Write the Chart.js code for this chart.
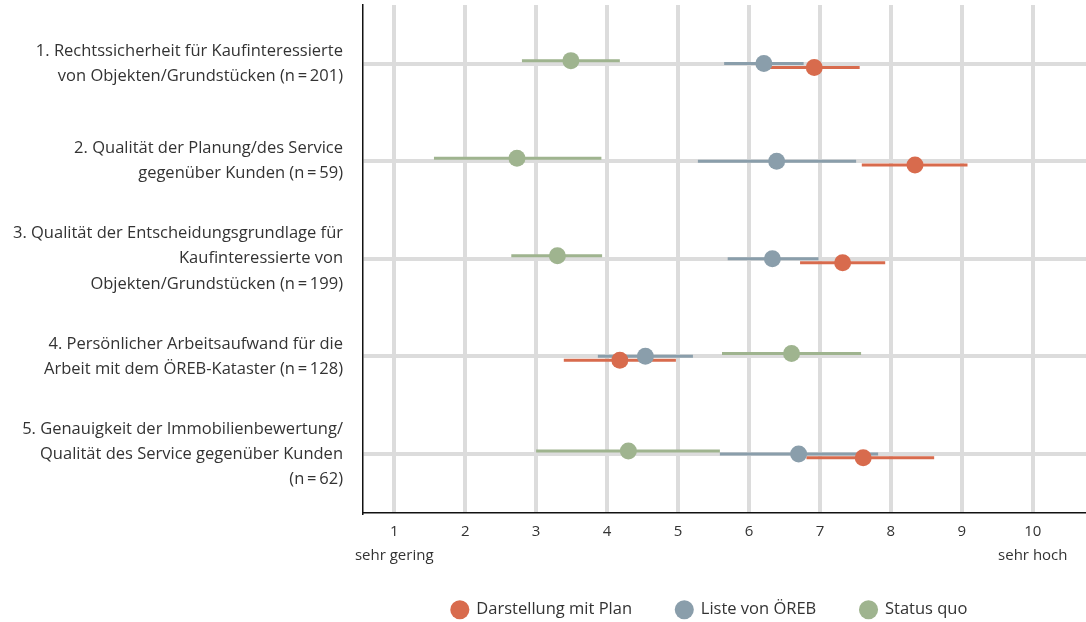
<!DOCTYPE html>
<html>
<head>
<meta charset="utf-8">
<script src="https://cdn.jsdelivr.net/npm/chart.js@4"></script>
<style>
  html, body { margin: 0; padding: 0; background: #fff; }
  #wrap { width: 1086px; height: 622px; }
</style>
</head>
<body>
<div id="wrap"><canvas id="myChart"></canvas></div>
<script>
// row labels (one array of lines per row)
const rowLabels = [
    ['1. Rechtssicherheit für Kaufinteressierte', 'von Objekten/Grundstücken (n\u2009=\u2009201)'],
    ['2. Qualität der Planung/des Service', 'gegenüber Kunden (n\u2009=\u200959)'],
    ['3. Qualität der Entscheidungsgrundlage für', 'Kaufinteressierte von', 'Objekten/Grundstücken (n\u2009=\u2009199)'],
    ['4. Persönlicher Arbeitsaufwand für die', 'Arbeit mit dem ÖREB-Kataster (n\u2009=\u2009128)'],
    ['5. Genauigkeit der Immobilienbewertung/', 'Qualität des Service gegenüber Kunden', '(n\u2009=\u200962)']
];
const xTicks = [1, 2, 3, 4, 5, 6, 7, 8, 9, 10];
const xTickExtra = { 1: 'sehr gering', 10: 'sehr hoch' };

// Darstellung mit Plan
const planMean = [6.92, 8.34, 7.32, 4.18, 7.61];
const planLo   = [6.28, 7.59, 6.72, 3.39, 6.81];
const planHi   = [7.56, 9.08, 7.92, 4.97, 8.61];
// Liste von ÖREB
const listeMean = [6.21, 6.39, 6.33, 4.54, 6.70];
const listeLo   = [5.65, 5.28, 5.70, 3.87, 5.59];
const listeHi   = [6.77, 7.51, 6.98, 5.21, 7.82];
// Status quo
const statusMean = [3.49, 2.73, 3.30, 6.60, 4.30];
const statusLo   = [2.80, 1.56, 2.65, 5.62, 3.00];
const statusHi   = [4.18, 3.92, 3.93, 7.58, 5.59];

const series = [
    { label: 'Darstellung mit Plan', color: '#d86b4d', shift: 0.04, mean: planMean, lo: planLo, hi: planHi },
    { label: 'Liste von ÖREB', color: '#8a9eab', shift: 0, mean: listeMean, lo: listeLo, hi: listeHi },
    { label: 'Status quo', color: '#9fb48f', shift: -0.03, mean: statusMean, lo: statusLo, hi: statusHi }
];

const datasets = [];
for (let s of series) {
    datasets.push({
        label: s.label,
        dot: true,
        data: s.mean.map((v, i) => ({ x: v, y: i + 1 + s.shift })),
        backgroundColor: s.color,
        borderWidth: 0,
        pointRadius: 8.5,
        pointHoverRadius: 8.5,
        order: 0
    });
}
for (let s of series) {
    const pts = [];
    s.lo.forEach((lo, i) => {
        pts.push({ x: lo, y: i + 1 + s.shift });
        pts.push({ x: s.hi[i], y: i + 1 + s.shift });
        pts.push({ x: s.hi[i], y: null });
    });
    datasets.push({
        type: 'line',
        label: s.label + ' Bereich',
        data: pts,
        borderColor: s.color,
        borderWidth: 3,
        borderCapStyle: 'butt',
        pointRadius: 0,
        showLine: true,
        spanGaps: false,
        order: 1
    });
}

const textColor = '#333';
const gridColor = '#dcdcdc';

// centre the legend under the plot area instead of the whole canvas
const legendUnderPlot = {
    id: 'legendUnderPlot',
    afterLayout(chart) {
        const lg = chart.legend;
        const shift = (chart.chartArea.left + chart.chartArea.right) / 2 - 15 - (lg.left + lg.right) / 2;
        lg.left += shift;
        lg.right += shift;
        lg.top -= 7;
        lg.bottom -= 7;
        lg.legendHitBoxes.forEach(b => { b.left += shift; b.top -= 7; });
    }
};

new Chart(document.getElementById('myChart'), {
    type: 'scatter',
    data: { datasets: datasets },
    plugins: [legendUnderPlot],
    options: {
        responsive: true,
        maintainAspectRatio: false,
        animation: false,
        layout: { autoPadding: false, padding: { top: 5, left: 0, right: 0, bottom: -13 } },
        plugins: {
            tooltip: { enabled: false },
            legend: {
                position: 'bottom',
                labels: {
                    filter: item => datasets[item.datasetIndex].dot,
                    usePointStyle: true,
                    pointStyle: 'circle',
                    boxWidth: 16.5,
                    boxHeight: 13.5,
                    padding: 44,
                    color: textColor,
                    font: { family: 'Open Sans', size: 16.5 }
                }
            }
        },
        scales: {
            x: {
                type: 'linear',
                min: 0.56,
                max: 10.75,
                afterBuildTicks: scale => { scale.ticks = xTicks.map(v => ({ value: v })); },
                afterFit: scale => {
                    scale.height = 52;
                    scale.paddingLeft = 0;
                    scale.paddingRight = 0;
                },
                ticks: {
                    autoSkip: false,
                    callback: v => xTickExtra[v] ? [String(v), xTickExtra[v]] : String(v),
                    color: textColor,
                    padding: 7,
                    maxRotation: 0,
                    font: { family: 'Open Sans', size: 15, lineHeight: 1.6 }
                },
                grid: { color: gridColor, lineWidth: 4, drawTicks: false },
                border: { display: true, color: '#111', width: 1.5 }
            },
            y: {
                type: 'linear',
                reverse: true,
                min: 0.4,
                max: 5.6,
                afterBuildTicks: scale => { scale.ticks = rowLabels.map((l, i) => ({ value: i + 1 })); },
                afterFit: scale => {
                    scale.width = 363;
                    scale.paddingTop = 0;
                    scale.paddingBottom = 0;
                },
                ticks: {
                    autoSkip: false,
                    callback: v => rowLabels[v - 1],
                    color: textColor,
                    padding: 20,
                    font: { family: 'Open Sans', size: 16.5, lineHeight: 1.52 }
                },
                grid: { color: gridColor, lineWidth: 4, drawTicks: false },
                border: { display: true, color: '#111', width: 1.5 }
            }
        }
    }
});
</script>
</body>
</html>
